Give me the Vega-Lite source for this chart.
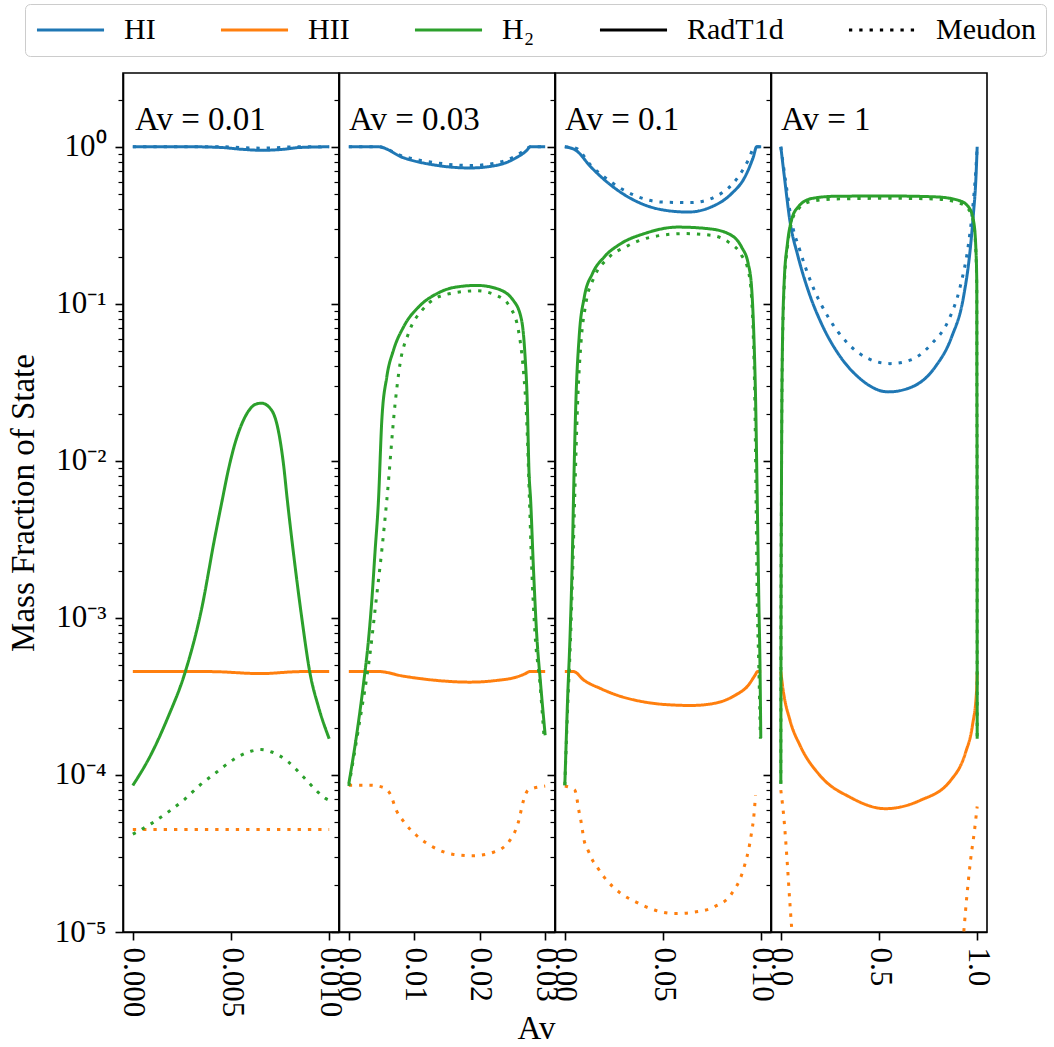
{
  "$schema": "https://vega.github.io/schema/vega-lite/v6.json",
  "padding": {"left": 6, "top": 3, "right": 2, "bottom": 2},
  "spacing": 0,
  "bounds": "flush",
  "config": {
    "font": "Liberation Serif",
    "view": {"stroke": "black", "strokeWidth": 1.6},
    "axis": {"grid": false, "domainColor": "black", "domainWidth": 1.6, "tickColor": "black", "labelColor": "black", "titleColor": "black", "labelFont": "Liberation Serif", "titleFont": "Liberation Serif", "titleFontWeight": "normal"},
    "title": {"font": "Liberation Serif", "fontWeight": "normal", "color": "black"}
  },
  "resolve": {"scale": {"color": "shared", "strokeDash": "shared", "x": "independent", "y": "shared"}, "legend": {"color": "shared"}},
  "datasets": {
    "d": [
      {"p":1,"s":"HI","c":"RadT1d","x":0,"y":1},{"p":1,"s":"HI","c":"RadT1d","x":0.003,"y":1},{"p":1,"s":"HI","c":"RadT1d","x":0.0045,"y":0.99},{"p":1,"s":"HI","c":"RadT1d","x":0.0055,"y":0.965},{"p":1,"s":"HI","c":"RadT1d","x":0.0066,"y":0.95},{"p":1,"s":"HI","c":"RadT1d","x":0.0077,"y":0.965},{"p":1,"s":"HI","c":"RadT1d","x":0.0085,"y":0.99},{"p":1,"s":"HI","c":"RadT1d","x":0.01,"y":1},
      {"p":1,"s":"HI","c":"Meudon","x":0,"y":1},{"p":1,"s":"HI","c":"Meudon","x":0.0045,"y":1},{"p":1,"s":"HI","c":"Meudon","x":0.0065,"y":0.98},{"p":1,"s":"HI","c":"Meudon","x":0.0085,"y":1},{"p":1,"s":"HI","c":"Meudon","x":0.01,"y":1},
      {"p":1,"s":"HII","c":"RadT1d","x":0,"y":4.56e-4},{"p":1,"s":"HII","c":"RadT1d","x":0.004,"y":4.55e-4},{"p":1,"s":"HII","c":"RadT1d","x":0.0065,"y":4.42e-4},{"p":1,"s":"HII","c":"RadT1d","x":0.0085,"y":4.55e-4},{"p":1,"s":"HII","c":"RadT1d","x":0.01,"y":4.56e-4},
      {"p":1,"s":"HII","c":"Meudon","x":0,"y":4.5e-5},{"p":1,"s":"HII","c":"Meudon","x":0.005,"y":4.5e-5},{"p":1,"s":"HII","c":"Meudon","x":0.01,"y":4.5e-5},
      {"p":1,"s":"H₂","c":"RadT1d","x":0,"y":8.57e-5},{"p":1,"s":"H₂","c":"RadT1d","x":0.00094,"y":1.36e-4},{"p":1,"s":"H₂","c":"RadT1d","x":0.00179,"y":2.33e-4},{"p":1,"s":"H₂","c":"RadT1d","x":0.00264,"y":4.41e-4},{"p":1,"s":"H₂","c":"RadT1d","x":0.00349,"y":1.12e-3},{"p":1,"s":"H₂","c":"RadT1d","x":0.00418,"y":3.27e-3},{"p":1,"s":"H₂","c":"RadT1d","x":0.00455,"y":5.6e-3},{"p":1,"s":"H₂","c":"RadT1d","x":0.00486,"y":8.7e-3},{"p":1,"s":"H₂","c":"RadT1d","x":0.00516,"y":0.01236},{"p":1,"s":"H₂","c":"RadT1d","x":0.00552,"y":0.01682},{"p":1,"s":"H₂","c":"RadT1d","x":0.00588,"y":0.02066},{"p":1,"s":"H₂","c":"RadT1d","x":0.00624,"y":0.0229},{"p":1,"s":"H₂","c":"RadT1d","x":0.00656,"y":0.0233},{"p":1,"s":"H₂","c":"RadT1d","x":0.00707,"y":0.021},{"p":1,"s":"H₂","c":"RadT1d","x":0.00741,"y":0.0156},{"p":1,"s":"H₂","c":"RadT1d","x":0.00767,"y":0.0096},{"p":1,"s":"H₂","c":"RadT1d","x":0.00787,"y":0.0056},{"p":1,"s":"H₂","c":"RadT1d","x":0.00827,"y":0.0021},{"p":1,"s":"H₂","c":"RadT1d","x":0.0086,"y":1.01e-3},{"p":1,"s":"H₂","c":"RadT1d","x":0.00903,"y":4.4e-4},{"p":1,"s":"H₂","c":"RadT1d","x":0.00946,"y":2.7e-4},{"p":1,"s":"H₂","c":"RadT1d","x":0.01,"y":1.7e-4},
      {"p":1,"s":"H₂","c":"Meudon","x":0,"y":4.2e-5},{"p":1,"s":"H₂","c":"Meudon","x":0.00094,"y":4.9e-5},{"p":1,"s":"H₂","c":"Meudon","x":0.00179,"y":5.8e-5},{"p":1,"s":"H₂","c":"Meudon","x":0.00264,"y":7.0e-5},{"p":1,"s":"H₂","c":"Meudon","x":0.00341,"y":8.6e-5},{"p":1,"s":"H₂","c":"Meudon","x":0.00426,"y":1.04e-4},{"p":1,"s":"H₂","c":"Meudon","x":0.00511,"y":1.25e-4},{"p":1,"s":"H₂","c":"Meudon","x":0.00605,"y":1.42e-4},{"p":1,"s":"H₂","c":"Meudon","x":0.00653,"y":1.45e-4},{"p":1,"s":"H₂","c":"Meudon","x":0.00707,"y":1.4e-4},{"p":1,"s":"H₂","c":"Meudon","x":0.00792,"y":1.21e-4},{"p":1,"s":"H₂","c":"Meudon","x":0.00869,"y":9.7e-5},{"p":1,"s":"H₂","c":"Meudon","x":0.00937,"y":7.9e-5},{"p":1,"s":"H₂","c":"Meudon","x":0.0098,"y":7.1e-5},{"p":1,"s":"H₂","c":"Meudon","x":0.01,"y":6.9e-5},

      {"p":2,"s":"HI","c":"RadT1d","x":0,"y":1},{"p":2,"s":"HI","c":"RadT1d","x":0.0045,"y":1},{"p":2,"s":"HI","c":"RadT1d","x":0.0083,"y":0.853},{"p":2,"s":"HI","c":"RadT1d","x":0.0134,"y":0.762},{"p":2,"s":"HI","c":"RadT1d","x":0.0185,"y":0.733},{"p":2,"s":"HI","c":"RadT1d","x":0.0226,"y":0.762},{"p":2,"s":"HI","c":"RadT1d","x":0.0256,"y":0.853},{"p":2,"s":"HI","c":"RadT1d","x":0.0272,"y":0.95},{"p":2,"s":"HI","c":"RadT1d","x":0.0277,"y":1},{"p":2,"s":"HI","c":"RadT1d","x":0.03,"y":1},
      {"p":2,"s":"HI","c":"Meudon","x":0,"y":1},{"p":2,"s":"HI","c":"Meudon","x":0.0045,"y":1},{"p":2,"s":"HI","c":"Meudon","x":0.0083,"y":0.87},{"p":2,"s":"HI","c":"Meudon","x":0.0134,"y":0.79},{"p":2,"s":"HI","c":"Meudon","x":0.0185,"y":0.76},{"p":2,"s":"HI","c":"Meudon","x":0.0226,"y":0.79},{"p":2,"s":"HI","c":"Meudon","x":0.0256,"y":0.88},{"p":2,"s":"HI","c":"Meudon","x":0.0272,"y":0.97},{"p":2,"s":"HI","c":"Meudon","x":0.0277,"y":1},{"p":2,"s":"HI","c":"Meudon","x":0.03,"y":1},
      {"p":2,"s":"HII","c":"RadT1d","x":0,"y":4.56e-4},{"p":2,"s":"HII","c":"RadT1d","x":0.0045,"y":4.56e-4},{"p":2,"s":"HII","c":"RadT1d","x":0.0083,"y":4.26e-4},{"p":2,"s":"HII","c":"RadT1d","x":0.0134,"y":4.0e-4},{"p":2,"s":"HII","c":"RadT1d","x":0.0185,"y":3.9e-4},{"p":2,"s":"HII","c":"RadT1d","x":0.0226,"y":4.0e-4},{"p":2,"s":"HII","c":"RadT1d","x":0.0256,"y":4.2e-4},{"p":2,"s":"HII","c":"RadT1d","x":0.0269,"y":4.4e-4},{"p":2,"s":"HII","c":"RadT1d","x":0.0277,"y":4.56e-4},{"p":2,"s":"HII","c":"RadT1d","x":0.03,"y":4.56e-4},
      {"p":2,"s":"HII","c":"Meudon","x":0,"y":8.6e-5},{"p":2,"s":"HII","c":"Meudon","x":0.0033,"y":8.6e-5},{"p":2,"s":"HII","c":"Meudon","x":0.005,"y":8.4e-5},{"p":2,"s":"HII","c":"Meudon","x":0.0063,"y":7.6e-5},{"p":2,"s":"HII","c":"Meudon","x":0.0073,"y":5.9e-5},{"p":2,"s":"HII","c":"Meudon","x":0.0083,"y":5.1e-5},{"p":2,"s":"HII","c":"Meudon","x":0.0104,"y":4.1e-5},{"p":2,"s":"HII","c":"Meudon","x":0.0129,"y":3.47e-5},{"p":2,"s":"HII","c":"Meudon","x":0.016,"y":3.12e-5},{"p":2,"s":"HII","c":"Meudon","x":0.019,"y":3.06e-5},{"p":2,"s":"HII","c":"Meudon","x":0.0221,"y":3.22e-5},{"p":2,"s":"HII","c":"Meudon","x":0.0246,"y":3.83e-5},{"p":2,"s":"HII","c":"Meudon","x":0.0259,"y":5.0e-5},{"p":2,"s":"HII","c":"Meudon","x":0.0267,"y":6.9e-5},{"p":2,"s":"HII","c":"Meudon","x":0.0274,"y":8.0e-5},{"p":2,"s":"HII","c":"Meudon","x":0.03,"y":8.5e-5},
      {"p":2,"s":"H₂","c":"RadT1d","x":0,"y":8.8e-5},{"p":2,"s":"H₂","c":"RadT1d","x":0.00122,"y":1.83e-4},{"p":2,"s":"H₂","c":"RadT1d","x":0.00224,"y":3.8e-4},{"p":2,"s":"H₂","c":"RadT1d","x":0.003,"y":7.2e-4},{"p":2,"s":"H₂","c":"RadT1d","x":0.00351,"y":1.29e-3},{"p":2,"s":"H₂","c":"RadT1d","x":0.00402,"y":2.69e-3},{"p":2,"s":"H₂","c":"RadT1d","x":0.00453,"y":5.6e-3},{"p":2,"s":"H₂","c":"RadT1d","x":0.00504,"y":0.0181},{"p":2,"s":"H₂","c":"RadT1d","x":0.0058,"y":0.0342},{"p":2,"s":"H₂","c":"RadT1d","x":0.00682,"y":0.0506},{"p":2,"s":"H₂","c":"RadT1d","x":0.00835,"y":0.0711},{"p":2,"s":"H₂","c":"RadT1d","x":0.0109,"y":0.0977},{"p":2,"s":"H₂","c":"RadT1d","x":0.01344,"y":0.116},{"p":2,"s":"H₂","c":"RadT1d","x":0.016,"y":0.127},{"p":2,"s":"H₂","c":"RadT1d","x":0.01954,"y":0.131},{"p":2,"s":"H₂","c":"RadT1d","x":0.0226,"y":0.125},{"p":2,"s":"H₂","c":"RadT1d","x":0.02515,"y":0.105},{"p":2,"s":"H₂","c":"RadT1d","x":0.0264,"y":0.0785},{"p":2,"s":"H₂","c":"RadT1d","x":0.0269,"y":0.0482},{"p":2,"s":"H₂","c":"RadT1d","x":0.02727,"y":0.0231},{"p":2,"s":"H₂","c":"RadT1d","x":0.02752,"y":0.0087},{"p":2,"s":"H₂","c":"RadT1d","x":0.02778,"y":5.6e-3},{"p":2,"s":"H₂","c":"RadT1d","x":0.0282,"y":2.1e-3},{"p":2,"s":"H₂","c":"RadT1d","x":0.0287,"y":7.9e-4},{"p":2,"s":"H₂","c":"RadT1d","x":0.0293,"y":3.8e-4},{"p":2,"s":"H₂","c":"RadT1d","x":0.03,"y":1.79e-4},
      {"p":2,"s":"H₂","c":"Meudon","x":0,"y":8.5e-5},{"p":2,"s":"H₂","c":"Meudon","x":0.0015,"y":2.0e-4},{"p":2,"s":"H₂","c":"Meudon","x":0.0033,"y":6.2e-4},{"p":2,"s":"H₂","c":"Meudon","x":0.00417,"y":1.29e-3},{"p":2,"s":"H₂","c":"Meudon","x":0.00504,"y":2.69e-3},{"p":2,"s":"H₂","c":"Meudon","x":0.0058,"y":5.6e-3},{"p":2,"s":"H₂","c":"Meudon","x":0.00707,"y":0.0231},{"p":2,"s":"H₂","c":"Meudon","x":0.00783,"y":0.0416},{"p":2,"s":"H₂","c":"Meudon","x":0.0091,"y":0.0646},{"p":2,"s":"H₂","c":"Meudon","x":0.0114,"y":0.0932},{"p":2,"s":"H₂","c":"Meudon","x":0.01496,"y":0.115},{"p":2,"s":"H₂","c":"Meudon","x":0.01954,"y":0.121},{"p":2,"s":"H₂","c":"Meudon","x":0.0226,"y":0.113},{"p":2,"s":"H₂","c":"Meudon","x":0.02463,"y":0.0954},{"p":2,"s":"H₂","c":"Meudon","x":0.02591,"y":0.0678},{"p":2,"s":"H₂","c":"Meudon","x":0.02667,"y":0.0377},{"p":2,"s":"H₂","c":"Meudon","x":0.02718,"y":0.0181},{"p":2,"s":"H₂","c":"Meudon","x":0.0276,"y":5.6e-3},{"p":2,"s":"H₂","c":"Meudon","x":0.02794,"y":2.1e-3},{"p":2,"s":"H₂","c":"Meudon","x":0.02845,"y":7.9e-4},{"p":2,"s":"H₂","c":"Meudon","x":0.02921,"y":3.8e-4},{"p":2,"s":"H₂","c":"Meudon","x":0.0298,"y":1.8e-4},

      {"p":3,"s":"HI","c":"RadT1d","x":0,"y":1},{"p":3,"s":"HI","c":"RadT1d","x":0.0056,"y":0.95},{"p":3,"s":"HI","c":"RadT1d","x":0.0133,"y":0.743},{"p":3,"s":"HI","c":"RadT1d","x":0.0235,"y":0.569},{"p":3,"s":"HI","c":"RadT1d","x":0.0354,"y":0.456},{"p":3,"s":"HI","c":"RadT1d","x":0.0491,"y":0.398},{"p":3,"s":"HI","c":"RadT1d","x":0.0627,"y":0.384},{"p":3,"s":"HI","c":"RadT1d","x":0.0746,"y":0.414},{"p":3,"s":"HI","c":"RadT1d","x":0.0849,"y":0.503},{"p":3,"s":"HI","c":"RadT1d","x":0.0917,"y":0.642},{"p":3,"s":"HI","c":"RadT1d","x":0.096,"y":0.861},{"p":3,"s":"HI","c":"RadT1d","x":0.0977,"y":1},{"p":3,"s":"HI","c":"RadT1d","x":0.1,"y":1},
      {"p":3,"s":"HI","c":"Meudon","x":0,"y":1},{"p":3,"s":"HI","c":"Meudon","x":0.0056,"y":0.98},{"p":3,"s":"HI","c":"Meudon","x":0.0133,"y":0.76},{"p":3,"s":"HI","c":"Meudon","x":0.0235,"y":0.597},{"p":3,"s":"HI","c":"Meudon","x":0.0354,"y":0.491},{"p":3,"s":"HI","c":"Meudon","x":0.0491,"y":0.445},{"p":3,"s":"HI","c":"Meudon","x":0.0644,"y":0.441},{"p":3,"s":"HI","c":"Meudon","x":0.078,"y":0.491},{"p":3,"s":"HI","c":"Meudon","x":0.0883,"y":0.642},{"p":3,"s":"HI","c":"Meudon","x":0.0934,"y":0.82},{"p":3,"s":"HI","c":"Meudon","x":0.0968,"y":1},{"p":3,"s":"HI","c":"Meudon","x":0.1,"y":1},
      {"p":3,"s":"HII","c":"RadT1d","x":0,"y":4.56e-4},{"p":3,"s":"HII","c":"RadT1d","x":0.0043,"y":4.56e-4},{"p":3,"s":"HII","c":"RadT1d","x":0.0099,"y":4.0e-4},{"p":3,"s":"HII","c":"RadT1d","x":0.0184,"y":3.54e-4},{"p":3,"s":"HII","c":"RadT1d","x":0.0269,"y":3.21e-4},{"p":3,"s":"HII","c":"RadT1d","x":0.0389,"y":2.94e-4},{"p":3,"s":"HII","c":"RadT1d","x":0.0525,"y":2.8e-4},{"p":3,"s":"HII","c":"RadT1d","x":0.0644,"y":2.77e-4},{"p":3,"s":"HII","c":"RadT1d","x":0.0763,"y":2.86e-4},{"p":3,"s":"HII","c":"RadT1d","x":0.0866,"y":3.21e-4},{"p":3,"s":"HII","c":"RadT1d","x":0.0934,"y":3.72e-4},{"p":3,"s":"HII","c":"RadT1d","x":0.0968,"y":4.3e-4},{"p":3,"s":"HII","c":"RadT1d","x":0.0982,"y":4.56e-4},{"p":3,"s":"HII","c":"RadT1d","x":0.1,"y":4.56e-4},
      {"p":3,"s":"HII","c":"Meudon","x":0,"y":8.5e-5},{"p":3,"s":"HII","c":"Meudon","x":0.0051,"y":8.0e-5},{"p":3,"s":"HII","c":"Meudon","x":0.0073,"y":5.8e-5},{"p":3,"s":"HII","c":"Meudon","x":0.0082,"y":5.1e-5},{"p":3,"s":"HII","c":"Meudon","x":0.0099,"y":3.8e-5},{"p":3,"s":"HII","c":"Meudon","x":0.0119,"y":3.3e-5},{"p":3,"s":"HII","c":"Meudon","x":0.0142,"y":2.85e-5},{"p":3,"s":"HII","c":"Meudon","x":0.017,"y":2.53e-5},{"p":3,"s":"HII","c":"Meudon","x":0.0201,"y":2.23e-5},{"p":3,"s":"HII","c":"Meudon","x":0.0278,"y":1.79e-5},{"p":3,"s":"HII","c":"Meudon","x":0.0363,"y":1.55e-5},{"p":3,"s":"HII","c":"Meudon","x":0.0457,"y":1.38e-5},{"p":3,"s":"HII","c":"Meudon","x":0.0559,"y":1.31e-5},{"p":3,"s":"HII","c":"Meudon","x":0.0661,"y":1.34e-5},{"p":3,"s":"HII","c":"Meudon","x":0.0763,"y":1.45e-5},{"p":3,"s":"HII","c":"Meudon","x":0.0849,"y":1.75e-5},{"p":3,"s":"HII","c":"Meudon","x":0.0908,"y":2.47e-5},{"p":3,"s":"HII","c":"Meudon","x":0.0947,"y":4.0e-5},{"p":3,"s":"HII","c":"Meudon","x":0.0965,"y":5.9e-5},{"p":3,"s":"HII","c":"Meudon","x":0.0971,"y":7.4e-5},
      {"p":3,"s":"H₂","c":"RadT1d","x":0,"y":8.6e-5},{"p":3,"s":"H₂","c":"RadT1d","x":0.0014,"y":3.0e-4},{"p":3,"s":"H₂","c":"RadT1d","x":0.0027,"y":7.9e-4},{"p":3,"s":"H₂","c":"RadT1d","x":0.0039,"y":2.7e-3},{"p":3,"s":"H₂","c":"RadT1d","x":0.0044,"y":5.6e-3},{"p":3,"s":"H₂","c":"RadT1d","x":0.0056,"y":0.0231},{"p":3,"s":"H₂","c":"RadT1d","x":0.0073,"y":0.0615},{"p":3,"s":"H₂","c":"RadT1d","x":0.0099,"y":0.11},{"p":3,"s":"H₂","c":"RadT1d","x":0.0141,"y":0.156},{"p":3,"s":"H₂","c":"RadT1d","x":0.0201,"y":0.199},{"p":3,"s":"H₂","c":"RadT1d","x":0.0286,"y":0.242},{"p":3,"s":"H₂","c":"RadT1d","x":0.0405,"y":0.28},{"p":3,"s":"H₂","c":"RadT1d","x":0.0576,"y":0.308},{"p":3,"s":"H₂","c":"RadT1d","x":0.073,"y":0.301},{"p":3,"s":"H₂","c":"RadT1d","x":0.0832,"y":0.28},{"p":3,"s":"H₂","c":"RadT1d","x":0.09,"y":0.23},{"p":3,"s":"H₂","c":"RadT1d","x":0.0934,"y":0.18},{"p":3,"s":"H₂","c":"RadT1d","x":0.0951,"y":0.128},{"p":3,"s":"H₂","c":"RadT1d","x":0.0963,"y":0.0615},{"p":3,"s":"H₂","c":"RadT1d","x":0.0972,"y":0.0231},{"p":3,"s":"H₂","c":"RadT1d","x":0.098,"y":5.6e-3},{"p":3,"s":"H₂","c":"RadT1d","x":0.0988,"y":1.29e-3},{"p":3,"s":"H₂","c":"RadT1d","x":0.0994,"y":4.9e-4},{"p":3,"s":"H₂","c":"RadT1d","x":0.0998,"y":1.72e-4},
      {"p":3,"s":"H₂","c":"Meudon","x":0,"y":8.6e-5},{"p":3,"s":"H₂","c":"Meudon","x":0.0016,"y":3.0e-4},{"p":3,"s":"H₂","c":"Meudon","x":0.003,"y":7.9e-4},{"p":3,"s":"H₂","c":"Meudon","x":0.0043,"y":2.7e-3},{"p":3,"s":"H₂","c":"Meudon","x":0.005,"y":5.6e-3},{"p":3,"s":"H₂","c":"Meudon","x":0.0065,"y":0.0231},{"p":3,"s":"H₂","c":"Meudon","x":0.0082,"y":0.0558},{"p":3,"s":"H₂","c":"Meudon","x":0.0107,"y":0.1},{"p":3,"s":"H₂","c":"Meudon","x":0.015,"y":0.148},{"p":3,"s":"H₂","c":"Meudon","x":0.0218,"y":0.194},{"p":3,"s":"H₂","c":"Meudon","x":0.032,"y":0.234},{"p":3,"s":"H₂","c":"Meudon","x":0.044,"y":0.266},{"p":3,"s":"H₂","c":"Meudon","x":0.061,"y":0.28},{"p":3,"s":"H₂","c":"Meudon","x":0.0746,"y":0.273},{"p":3,"s":"H₂","c":"Meudon","x":0.0832,"y":0.248},{"p":3,"s":"H₂","c":"Meudon","x":0.09,"y":0.204},{"p":3,"s":"H₂","c":"Meudon","x":0.0934,"y":0.163},{"p":3,"s":"H₂","c":"Meudon","x":0.0951,"y":0.11},{"p":3,"s":"H₂","c":"Meudon","x":0.096,"y":0.0615},{"p":3,"s":"H₂","c":"Meudon","x":0.0968,"y":0.0231},{"p":3,"s":"H₂","c":"Meudon","x":0.0974,"y":5.6e-3},{"p":3,"s":"H₂","c":"Meudon","x":0.098,"y":1.29e-3},{"p":3,"s":"H₂","c":"Meudon","x":0.0988,"y":4.9e-4},{"p":3,"s":"H₂","c":"Meudon","x":0.0996,"y":1.7e-4},

      {"p":4,"s":"HI","c":"RadT1d","x":0,"y":1},{"p":4,"s":"HI","c":"RadT1d","x":0.0204,"y":0.61},{"p":4,"s":"HI","c":"RadT1d","x":0.0459,"y":0.34},{"p":4,"s":"HI","c":"RadT1d","x":0.0883,"y":0.199},{"p":4,"s":"HI","c":"RadT1d","x":0.139,"y":0.122},{"p":4,"s":"HI","c":"RadT1d","x":0.207,"y":0.0748},{"p":4,"s":"HI","c":"RadT1d","x":0.292,"y":0.0482},{"p":4,"s":"HI","c":"RadT1d","x":0.394,"y":0.0342},{"p":4,"s":"HI","c":"RadT1d","x":0.547,"y":0.0275},{"p":4,"s":"HI","c":"RadT1d","x":0.666,"y":0.0295},{"p":4,"s":"HI","c":"RadT1d","x":0.786,"y":0.0396},{"p":4,"s":"HI","c":"RadT1d","x":0.87,"y":0.0615},{"p":4,"s":"HI","c":"RadT1d","x":0.93,"y":0.11},{"p":4,"s":"HI","c":"RadT1d","x":0.964,"y":0.219},{"p":4,"s":"HI","c":"RadT1d","x":0.981,"y":0.376},{"p":4,"s":"HI","c":"RadT1d","x":0.993,"y":0.61},{"p":4,"s":"HI","c":"RadT1d","x":1.0,"y":1},
      {"p":4,"s":"HI","c":"Meudon","x":0,"y":1},{"p":4,"s":"HI","c":"Meudon","x":0.0286,"y":0.555},{"p":4,"s":"HI","c":"Meudon","x":0.054,"y":0.34},{"p":4,"s":"HI","c":"Meudon","x":0.097,"y":0.219},{"p":4,"s":"HI","c":"Meudon","x":0.156,"y":0.135},{"p":4,"s":"HI","c":"Meudon","x":0.241,"y":0.0824},{"p":4,"s":"HI","c":"Meudon","x":0.343,"y":0.0557},{"p":4,"s":"HI","c":"Meudon","x":0.445,"y":0.0448},{"p":4,"s":"HI","c":"Meudon","x":0.556,"y":0.0416},{"p":4,"s":"HI","c":"Meudon","x":0.666,"y":0.0441},{"p":4,"s":"HI","c":"Meudon","x":0.768,"y":0.0557},{"p":4,"s":"HI","c":"Meudon","x":0.854,"y":0.0785},{"p":4,"s":"HI","c":"Meudon","x":0.913,"y":0.128},{"p":4,"s":"HI","c":"Meudon","x":0.956,"y":0.242},{"p":4,"s":"HI","c":"Meudon","x":0.976,"y":0.394},{"p":4,"s":"HI","c":"Meudon","x":0.993,"y":0.709},{"p":4,"s":"HI","c":"Meudon","x":1.0,"y":1},
      {"p":4,"s":"HII","c":"RadT1d","x":0,"y":4.56e-4},{"p":4,"s":"HII","c":"RadT1d","x":0.01,"y":3.6e-4},{"p":4,"s":"HII","c":"RadT1d","x":0.047,"y":2.22e-4},{"p":4,"s":"HII","c":"RadT1d","x":0.098,"y":1.54e-4},{"p":4,"s":"HII","c":"RadT1d","x":0.2,"y":9.9e-5},{"p":4,"s":"HII","c":"RadT1d","x":0.354,"y":7.2e-5},{"p":4,"s":"HII","c":"RadT1d","x":0.532,"y":6.1e-5},{"p":4,"s":"HII","c":"RadT1d","x":0.711,"y":6.9e-5},{"p":4,"s":"HII","c":"RadT1d","x":0.864,"y":9.2e-5},{"p":4,"s":"HII","c":"RadT1d","x":0.941,"y":1.39e-4},{"p":4,"s":"HII","c":"RadT1d","x":0.976,"y":2.07e-4},{"p":4,"s":"HII","c":"RadT1d","x":0.997,"y":3.45e-4},{"p":4,"s":"HII","c":"RadT1d","x":1.0,"y":4.5e-4},
      {"p":4,"s":"HII","c":"Meudon","x":0,"y":8.0e-5},{"p":4,"s":"HII","c":"Meudon","x":0.017,"y":5.1e-5},{"p":4,"s":"HII","c":"Meudon","x":0.032,"y":2.85e-5},{"p":4,"s":"HII","c":"Meudon","x":0.047,"y":1.48e-5},{"p":4,"s":"HII","c":"Meudon","x":0.063,"y":8e-6},{"p":4,"s":"HII","c":"Meudon","x":0.1,"y":4e-6},{"p":4,"s":"HII","c":"Meudon","x":0.5,"y":1.5e-6},{"p":4,"s":"HII","c":"Meudon","x":0.9,"y":4e-6},{"p":4,"s":"HII","c":"Meudon","x":0.925,"y":8e-6},{"p":4,"s":"HII","c":"Meudon","x":0.946,"y":1.62e-5},{"p":4,"s":"HII","c":"Meudon","x":0.966,"y":2.85e-5},{"p":4,"s":"HII","c":"Meudon","x":0.986,"y":4.4e-5},{"p":4,"s":"HII","c":"Meudon","x":1.0,"y":6.3e-5},
      {"p":4,"s":"H₂","c":"RadT1d","x":0,"y":8.8e-5},{"p":4,"s":"H₂","c":"RadT1d","x":0.001,"y":1e-3},{"p":4,"s":"H₂","c":"RadT1d","x":0.003,"y":5.6e-3},{"p":4,"s":"H₂","c":"RadT1d","x":0.0066,"y":0.0377},{"p":4,"s":"H₂","c":"RadT1d","x":0.0168,"y":0.135},{"p":4,"s":"H₂","c":"RadT1d","x":0.0337,"y":0.242},{"p":4,"s":"H₂","c":"RadT1d","x":0.054,"y":0.34},{"p":4,"s":"H₂","c":"RadT1d","x":0.0883,"y":0.414},{"p":4,"s":"H₂","c":"RadT1d","x":0.156,"y":0.468},{"p":4,"s":"H₂","c":"RadT1d","x":0.276,"y":0.484},{"p":4,"s":"H₂","c":"RadT1d","x":0.547,"y":0.486},{"p":4,"s":"H₂","c":"RadT1d","x":0.786,"y":0.48},{"p":4,"s":"H₂","c":"RadT1d","x":0.905,"y":0.456},{"p":4,"s":"H₂","c":"RadT1d","x":0.956,"y":0.414},{"p":4,"s":"H₂","c":"RadT1d","x":0.981,"y":0.34},{"p":4,"s":"H₂","c":"RadT1d","x":0.993,"y":0.23},{"p":4,"s":"H₂","c":"RadT1d","x":0.998,"y":0.135},{"p":4,"s":"H₂","c":"RadT1d","x":0.9985,"y":0.0377},{"p":4,"s":"H₂","c":"RadT1d","x":0.9995,"y":5.6e-3},{"p":4,"s":"H₂","c":"RadT1d","x":1.0,"y":1.7e-4},
      {"p":4,"s":"H₂","c":"Meudon","x":0,"y":8.8e-5},{"p":4,"s":"H₂","c":"Meudon","x":0.001,"y":1e-3},{"p":4,"s":"H₂","c":"Meudon","x":0.003,"y":5.6e-3},{"p":4,"s":"H₂","c":"Meudon","x":0.0066,"y":0.035},{"p":4,"s":"H₂","c":"Meudon","x":0.0168,"y":0.125},{"p":4,"s":"H₂","c":"Meudon","x":0.0337,"y":0.23},{"p":4,"s":"H₂","c":"Meudon","x":0.054,"y":0.33},{"p":4,"s":"H₂","c":"Meudon","x":0.0883,"y":0.4},{"p":4,"s":"H₂","c":"Meudon","x":0.156,"y":0.45},{"p":4,"s":"H₂","c":"Meudon","x":0.276,"y":0.465},{"p":4,"s":"H₂","c":"Meudon","x":0.547,"y":0.47},{"p":4,"s":"H₂","c":"Meudon","x":0.786,"y":0.465},{"p":4,"s":"H₂","c":"Meudon","x":0.905,"y":0.44},{"p":4,"s":"H₂","c":"Meudon","x":0.956,"y":0.4},{"p":4,"s":"H₂","c":"Meudon","x":0.981,"y":0.33},{"p":4,"s":"H₂","c":"Meudon","x":0.993,"y":0.22},{"p":4,"s":"H₂","c":"Meudon","x":0.998,"y":0.12},{"p":4,"s":"H₂","c":"Meudon","x":0.9985,"y":0.035},{"p":4,"s":"H₂","c":"Meudon","x":0.9995,"y":5e-3},{"p":4,"s":"H₂","c":"Meudon","x":1.0,"y":1.6e-4}
    ]
  },
  "hconcat": [
    {
      "width": 216, "height": 859,
      "data": {"name": "d"},
      "transform": [{"filter": "datum.p == 1"}],
      "title": {"text": "Av = 0.01", "anchor": "start", "frame": "group", "orient": "top", "offset": 0, "baseline": "alphabetic", "dy": 90, "dx": 12, "fontSize": 33},
      "mark": {"type": "line", "strokeWidth": 3, "clip": true, "interpolate": "monotone"},
      "encoding": {
        "x": {"field": "x", "type": "quantitative", "scale": {"domain": [-0.0005, 0.0105], "nice": false, "zero": false},
              "axis": {"values": [0, 0.005, 0.01], "format": ".3f", "title": null, "labelAngle": 90, "labelFontSize": 31, "labelFlush": false, "labelOverlap": false, "tickSize": 8, "tickWidth": 1.6, "labelPadding": 7}},
        "y": {"field": "y", "type": "quantitative", "scale": {"type": "log", "domain": [0.00001, 2.95], "nice": false},
              "axis": {"values": [0.00001,0.00002,0.00003,0.00004,0.00005,0.00006,0.00007,0.00008,0.00009,0.0001,0.0002,0.0003,0.0004,0.0005,0.0006,0.0007,0.0008,0.0009,0.001,0.002,0.003,0.004,0.005,0.006,0.007,0.008,0.009,0.01,0.02,0.03,0.04,0.05,0.06,0.07,0.08,0.09,0.1,0.2,0.3,0.4,0.5,0.6,0.7,0.8,0.9,1,2],
                       "labelExpr": "datum.value == 1 ? '10⁰' : datum.value == 0.1 ? '10⁻¹' : datum.value == 0.01 ? '10⁻²' : datum.value == 0.001 ? '10⁻³' : datum.value == 0.0001 ? '10⁻⁴' : datum.value == 0.00001 ? '10⁻⁵' : ''",
                       "labelOverlap": false, "labelFontSize": 31, "labelPadding": 9,
                       "tickSize": {"condition": {"test": "indexof([1,0.1,0.01,0.001,0.0001,0.00001], datum.value) >= 0", "value": 8}, "value": 5},
                       "tickWidth": {"condition": {"test": "indexof([1,0.1,0.01,0.001,0.0001,0.00001], datum.value) >= 0", "value": 1.6}, "value": 1.2},
                       "title": "Mass Fraction of State", "titleFontSize": 33, "titlePadding": 14}},
        "color": {"field": "s", "type": "nominal",
                  "scale": {"domain": ["HI", "HII", "H₂", "RadT1d", "Meudon"], "range": ["#1f77b4", "#ff7f0e", "#2ca02c", "black", "black"]},
                  "legend": {"orient": "none", "legendX": -98, "legendY": -69, "direction": "horizontal", "columns": 5, "title": null,
                             "symbolType": "stroke", "symbolSize": 400, "symbolStrokeWidth": 3, "labelFontSize": 30, "labelFont": "Liberation Serif", "labelColor": "black",
                             "labelOffset": 18, "columnPadding": 63, "padding": 10, "clipHeight": 32, "strokeColor": "#cccccc", "cornerRadius": 5, "fillColor": "white",
                             "encode": {"symbols": {"update": {"size": {"value": 4500}, "strokeDash": {"signal": "datum.label == 'Meudon' ? [3.3, 7] : [1, 0]"}}}}}},
        "strokeDash": {"field": "c", "type": "nominal", "scale": {"domain": ["RadT1d", "Meudon"], "range": [[1, 0], [3.3, 7]]}, "legend": null}
      }
    },
    {
      "width": 216, "height": 859,
      "data": {"name": "d"},
      "transform": [{"filter": "datum.p == 2"}],
      "title": {"text": "Av = 0.03", "anchor": "start", "frame": "group", "orient": "top", "offset": 0, "baseline": "alphabetic", "dy": 90, "dx": 10, "fontSize": 33},
      "mark": {"type": "line", "strokeWidth": 3, "clip": true, "interpolate": "monotone"},
      "encoding": {
        "x": {"field": "x", "type": "quantitative", "scale": {"domain": [-0.0015, 0.0315], "nice": false, "zero": false},
              "axis": {"values": [0, 0.01, 0.02, 0.03], "format": ".2f", "labelAngle": 90, "labelFontSize": 31, "labelFlush": false, "labelOverlap": false, "tickSize": 8, "tickWidth": 1.6, "labelPadding": 7,
                       "title": "Av", "titleFontSize": 33, "titleX": 197, "titleY": 106, "titleBaseline": "alphabetic", "titleAlign": "center", "titleAngle": 0}},
        "y": {"field": "y", "type": "quantitative", "scale": {"type": "log", "domain": [0.00001, 2.95], "nice": false},
              "axis": {"values": [0.00001,0.00002,0.00003,0.00004,0.00005,0.00006,0.00007,0.00008,0.00009,0.0001,0.0002,0.0003,0.0004,0.0005,0.0006,0.0007,0.0008,0.0009,0.001,0.002,0.003,0.004,0.005,0.006,0.007,0.008,0.009,0.01,0.02,0.03,0.04,0.05,0.06,0.07,0.08,0.09,0.1,0.2,0.3,0.4,0.5,0.6,0.7,0.8,0.9,1,2],
                       "labels": false, "title": null,
                       "tickSize": {"condition": {"test": "indexof([1,0.1,0.01,0.001,0.0001,0.00001], datum.value) >= 0", "value": 8}, "value": 5},
                       "tickWidth": {"condition": {"test": "indexof([1,0.1,0.01,0.001,0.0001,0.00001], datum.value) >= 0", "value": 1.6}, "value": 1.2}}},
        "color": {"field": "s", "type": "nominal",
                  "scale": {"domain": ["HI", "HII", "H₂", "RadT1d", "Meudon"], "range": ["#1f77b4", "#ff7f0e", "#2ca02c", "black", "black"]}},
        "strokeDash": {"field": "c", "type": "nominal", "scale": {"domain": ["RadT1d", "Meudon"], "range": [[1, 0], [3.3, 7]]}, "legend": null}
      }
    },
    {
      "width": 216, "height": 859,
      "data": {"name": "d"},
      "transform": [{"filter": "datum.p == 3"}],
      "title": {"text": "Av = 0.1", "anchor": "start", "frame": "group", "orient": "top", "offset": 0, "baseline": "alphabetic", "dy": 90, "dx": 10, "fontSize": 33},
      "mark": {"type": "line", "strokeWidth": 3, "clip": true, "interpolate": "monotone"},
      "encoding": {
        "x": {"field": "x", "type": "quantitative", "scale": {"domain": [-0.005, 0.105], "nice": false, "zero": false},
              "axis": {"values": [0, 0.05, 0.1], "format": ".2f", "title": null, "labelAngle": 90, "labelFontSize": 31, "labelFlush": false, "labelOverlap": false, "tickSize": 8, "tickWidth": 1.6, "labelPadding": 7}},
        "y": {"field": "y", "type": "quantitative", "scale": {"type": "log", "domain": [0.00001, 2.95], "nice": false},
              "axis": {"values": [0.00001,0.00002,0.00003,0.00004,0.00005,0.00006,0.00007,0.00008,0.00009,0.0001,0.0002,0.0003,0.0004,0.0005,0.0006,0.0007,0.0008,0.0009,0.001,0.002,0.003,0.004,0.005,0.006,0.007,0.008,0.009,0.01,0.02,0.03,0.04,0.05,0.06,0.07,0.08,0.09,0.1,0.2,0.3,0.4,0.5,0.6,0.7,0.8,0.9,1,2],
                       "labels": false, "title": null,
                       "tickSize": {"condition": {"test": "indexof([1,0.1,0.01,0.001,0.0001,0.00001], datum.value) >= 0", "value": 8}, "value": 5},
                       "tickWidth": {"condition": {"test": "indexof([1,0.1,0.01,0.001,0.0001,0.00001], datum.value) >= 0", "value": 1.6}, "value": 1.2}}},
        "color": {"field": "s", "type": "nominal",
                  "scale": {"domain": ["HI", "HII", "H₂", "RadT1d", "Meudon"], "range": ["#1f77b4", "#ff7f0e", "#2ca02c", "black", "black"]}},
        "strokeDash": {"field": "c", "type": "nominal", "scale": {"domain": ["RadT1d", "Meudon"], "range": [[1, 0], [3.3, 7]]}, "legend": null}
      }
    },
    {
      "width": 216, "height": 859,
      "data": {"name": "d"},
      "transform": [{"filter": "datum.p == 4"}],
      "title": {"text": "Av = 1", "anchor": "start", "frame": "group", "orient": "top", "offset": 0, "baseline": "alphabetic", "dy": 90, "dx": 10, "fontSize": 33},
      "mark": {"type": "line", "strokeWidth": 3, "clip": true, "interpolate": "monotone"},
      "encoding": {
        "x": {"field": "x", "type": "quantitative", "scale": {"domain": [-0.05, 1.05], "nice": false, "zero": false},
              "axis": {"values": [0, 0.5, 1], "format": ".1f", "title": null, "labelAngle": 90, "labelFontSize": 31, "labelFlush": false, "labelOverlap": false, "tickSize": 8, "tickWidth": 1.6, "labelPadding": 7}},
        "y": {"field": "y", "type": "quantitative", "scale": {"type": "log", "domain": [0.00001, 2.95], "nice": false},
              "axis": {"values": [0.00001,0.00002,0.00003,0.00004,0.00005,0.00006,0.00007,0.00008,0.00009,0.0001,0.0002,0.0003,0.0004,0.0005,0.0006,0.0007,0.0008,0.0009,0.001,0.002,0.003,0.004,0.005,0.006,0.007,0.008,0.009,0.01,0.02,0.03,0.04,0.05,0.06,0.07,0.08,0.09,0.1,0.2,0.3,0.4,0.5,0.6,0.7,0.8,0.9,1,2],
                       "labels": false, "title": null,
                       "tickSize": {"condition": {"test": "indexof([1,0.1,0.01,0.001,0.0001,0.00001], datum.value) >= 0", "value": 8}, "value": 5},
                       "tickWidth": {"condition": {"test": "indexof([1,0.1,0.01,0.001,0.0001,0.00001], datum.value) >= 0", "value": 1.6}, "value": 1.2}}},
        "color": {"field": "s", "type": "nominal",
                  "scale": {"domain": ["HI", "HII", "H₂", "RadT1d", "Meudon"], "range": ["#1f77b4", "#ff7f0e", "#2ca02c", "black", "black"]}},
        "strokeDash": {"field": "c", "type": "nominal", "scale": {"domain": ["RadT1d", "Meudon"], "range": [[1, 0], [3.3, 7]]}, "legend": null}
      }
    }
  ]
}
